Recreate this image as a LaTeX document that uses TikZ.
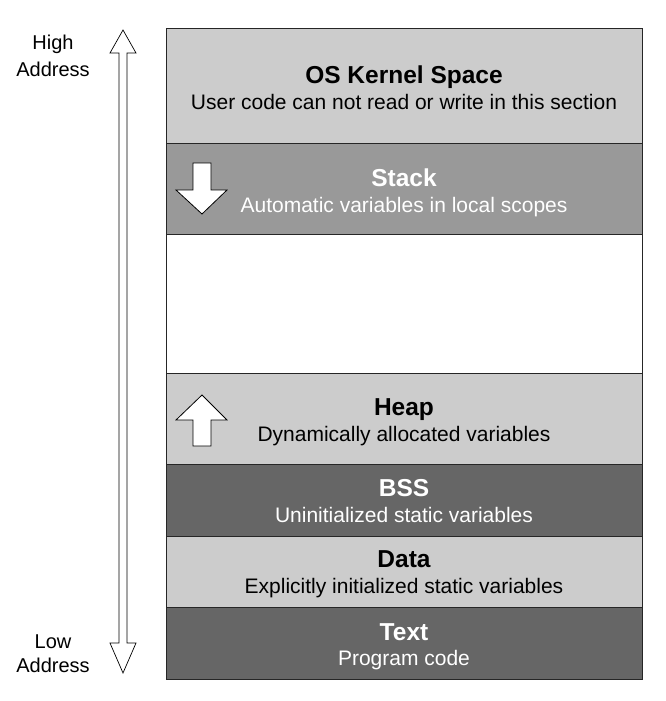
\documentclass[tikz,border=0pt]{standalone}
\usepackage{fontspec}
\setmainfont{Liberation Sans}
\begin{document}
\begin{tikzpicture}[x=1pt,y=-1pt,
  seg/.style={draw=black!85,line width=1pt},
  ttl/.style={font=\fontsize{24.5}{26}\selectfont\bfseries,anchor=base},
  sub/.style={font=\fontsize{21}{23}\selectfont,anchor=base},
  blk/.style={draw=black,line width=0.8pt,fill=white,line join=miter},
  lbl/.style={font=\fontsize{20}{22}\selectfont,anchor=base}]
\useasboundingbox (0,0) rectangle (665,701);
\definecolor{lg}{HTML}{CCCCCC}
\definecolor{mg}{HTML}{999999}
\definecolor{dg}{HTML}{666666}
% segments
\path[seg,fill=lg] (166,29) rectangle (642,143);
\path[seg,fill=mg] (166,143) rectangle (642,234);
\path[seg,fill=white] (166,234) rectangle (642,373);
\path[seg,fill=lg] (166,373) rectangle (642,464);
\path[seg,fill=dg] (166,464) rectangle (642,536);
\path[seg,fill=lg] (166,536) rectangle (642,607);
\path[seg,fill=dg] (166,607) rectangle (642,679);
% texts
\node[ttl] (osT) at (404,83) {OS Kernel Space};
\node[sub] (osS) at (404,109) {User code can not read or write in this section};
\node[ttl,text=white] (stT) at (404,186) {Stack};
\node[sub,text=white] (stS) at (404,212) {Automatic variables in local scopes};
\node[ttl] (hpT) at (404,415) {Heap};
\node[sub] (hpS) at (404,441) {Dynamically allocated variables};
\node[ttl,text=white] (bsT) at (404,496) {BSS};
\node[sub,text=white] (bsS) at (404,522) {Uninitialized static variables};
\node[ttl] (dtT) at (404,567) {Data};
\node[sub] (dtS) at (404,593) {Explicitly initialized static variables};
\node[ttl,text=white] (txT) at (404,640) {Text};
\node[sub,text=white] (txS) at (404,665) {Program code};
% stack arrow (down)
\draw[blk] (193,163) -- (211,163) -- (211,190) -- (227,190) -- (202,214) -- (176,190) -- (193,190) -- cycle;
% heap arrow (up)
\draw[blk] (193,446) -- (211,446) -- (211,420) -- (227,420) -- (202,395) -- (176,420) -- (193,420) -- cycle;
% address double arrow
\draw[draw=black,line width=0.7pt,fill=white] (123,30) -- (136,53) -- (127,53) -- (127,643) -- (136,643) -- (123,673) -- (110,643) -- (119,643) -- (119,53) -- (110,53) -- cycle;
\node[lbl] (hi1) at (53,50) {High};
\node[lbl] (hi2) at (53,76) {Address};
\node[lbl] (lo1) at (53,648) {Low};
\node[lbl] (lo2) at (53,672) {Address};
\end{tikzpicture}
\end{document}
